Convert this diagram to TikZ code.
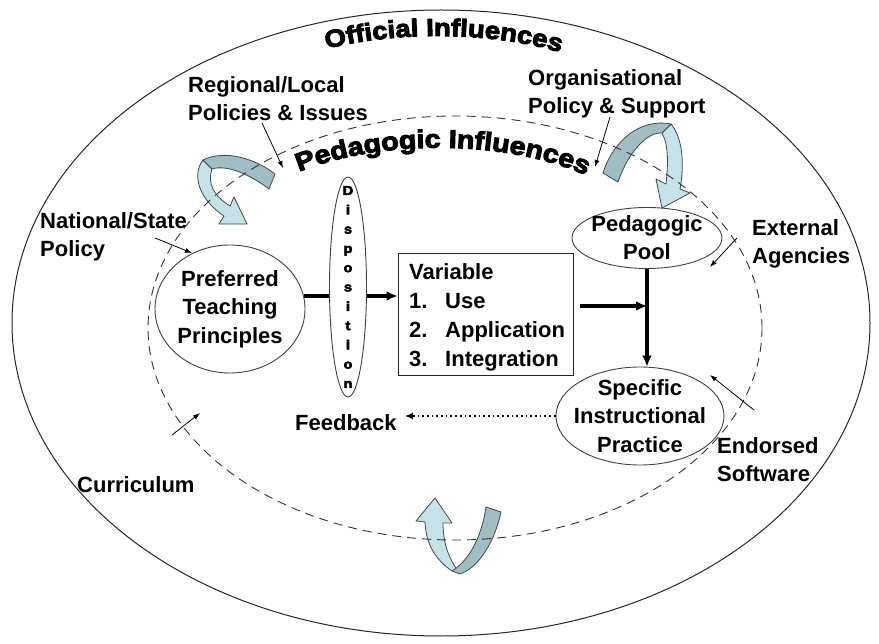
\documentclass[tikz,border=0pt]{standalone}
\usepackage{fontspec}
\setmainfont{Liberation Sans}
\newfontfamily\heavyfont{Liberation Sans Bold}[FakeBold=4,FakeStretch=1.12]
\usetikzlibrary{shapes.geometric,arrows.meta,decorations.text,calc}
\definecolor{rlight}{HTML}{C6E2E8}
\definecolor{rdark}{HTML}{9FBDC3}
\definecolor{rline}{HTML}{3C4C4E}
\begin{document}
\begin{tikzpicture}[x=1pt,y=-1pt,
  lbl/.style={font=\fontsize{22}{28}\selectfont\bfseries, align=left, inner sep=0, anchor=north west},
  ctr/.style={font=\fontsize{22}{28.5}\selectfont\bfseries, align=center, inner sep=0},
  oval/.style={ellipse, draw=black!75, line width=0.9pt, inner sep=0},
  thin arrow/.style={line width=0.8pt, -{Latex[length=7pt,width=5pt]}},
  flow/.style={line width=3.2pt},
  flow arrow/.style={line width=3.2pt, -{Latex[length=11pt,width=10pt]}},
  ribbon/.style={draw=rline, line width=0.8pt, line join=round},
]
\useasboundingbox (0,0) rectangle (879,644);
\fill[white] (0,0) rectangle (879,644);
% outer ellipse
\draw[line width=1pt, black!85] (441,323) ellipse [x radius=429, y radius=313];
% ribbon arrows
\filldraw[ribbon, fill=rlight] (203,160) .. controls (191,176) and (200,200) .. (224,216) -- (219,224) -- (247,224) -- (234,197) -- (230,206) .. controls (214,196) and (207,184) .. (212,169) -- cycle;
\filldraw[ribbon, fill=rdark] (203,160) .. controls (225,149) and (256,159) .. (275,174) -- (269,189) .. controls (252,176) and (228,164) .. (212,169) -- cycle;
\filldraw[ribbon, fill=rlight] (671,124) .. controls (684,140) and (684,168) .. (680,189) -- (690,193) -- (662,208) -- (656,179) -- (666,184) .. controls (668,165) and (669,146) .. (662,133) -- cycle;
\filldraw[ribbon, fill=rdark] (603,173) .. controls (613,141) and (640,118) .. (671,124) -- (662,133) .. controls (648,132) and (629,150) .. (618,182) -- cycle;
\filldraw[ribbon, fill=rlight] (425,522) -- (416,521) -- (435,498) -- (452,523) -- (443,523) .. controls (443,545) and (450,560) .. (458,571) -- (452,571) .. controls (436,560) and (426,545) .. (425,522) -- cycle;
\filldraw[ribbon, fill=rdark] (452,571) .. controls (470,560) and (482,535) .. (486,507) -- (501,512) .. controls (495,540) and (480,567) .. (460,574) -- cycle;
% dashed ellipse
\draw[line width=0.9pt, black!80, dash pattern=on 9pt off 6pt] (455,328) ellipse [x radius=307, y radius=212];
% curved titles
\path[decorate, decoration={text along path, text align=center, text={|\heavyfont\fontsize{24.5}{24.5}\selectfont|Official Influences}}] (315,52) .. controls (390,30) and (495,30) .. (572,56);
\path[decorate, decoration={text along path, text align=center, text={|\heavyfont\fontsize{25.5}{25.5}\selectfont|Pedagogic Influences}}] (285,178) .. controls (370,137) and (515,137) .. (600,182);
% main nodes
\node[oval, minimum width=150pt, minimum height=128pt] (pref) at (230,309) {};
\node[ctr] (preft) at (pref.center) {Preferred\\Teaching\\Principles};
\node[oval, minimum width=37pt, minimum height=220pt] (disp) at (348,287) {};
\node[font=\heavyfont\fontsize{13}{19.3}\selectfont, align=center, inner sep=0] (dispt) at (disp.center) {D\\i\\s\\p\\o\\s\\i\\t\\i\\o\\n};
\node[draw=black!85, line width=0.9pt, minimum width=175pt, minimum height=122pt, inner sep=0] (vbox) at (485.5,314) {};
\node[lbl, font=\fontsize{22}{29}\selectfont\bfseries] (vboxt) at (409,263) {Variable\\\makebox[36pt][l]{1.}Use\\\makebox[36pt][l]{2.}Application\\\makebox[36pt][l]{3.}Integration};
\node[oval, minimum width=150pt, minimum height=61pt] (pool) at (647,238) {};
\node[ctr, font=\fontsize{22}{28}\selectfont\bfseries] (poolt) at (pool.center) {Pedagogic\\Pool};
\node[oval, minimum width=168pt, minimum height=98pt] (spec) at (640,416) {};
\node[ctr] (spect) at (spec.center) {Specific\\Instructional\\Practice};
% flow connectors
\draw[flow] (pref.10) -- (pref.10 -| disp.west);
\draw[flow arrow] (pref.10 -| disp.east) -- (pref.10 -| vbox.west);
\coordinate (hs) at (580,306);
\coordinate (jn) at (pool.south |- hs);
\draw[flow arrow] (hs) -- (jn);
\draw[flow arrow] (pool.south) -- (pool.south |- spec.north);
% feedback
\node[lbl] (fb) at (295,414) {Feedback};
\draw[line width=1.7pt, dash pattern=on 1.7pt off 3pt, -{Latex[length=8pt,width=7pt]}] (spec.west) -- ($(fb.east |- spec.west)+(8,0)$);
% influence labels
\node[lbl] (reg) at (188,76) {Regional/Local\\Policies \& Issues};
\node[lbl] (org) at (528,69) {Organisational\\Policy \& Support};
\node[lbl] (nat) at (40,212) {National/State\\Policy};
\node[lbl] (ext) at (752,219) {External\\Agencies};
\node[lbl] (ends) at (717,437) {Endorsed\\Software};
\node[lbl] (cur) at (77,476) {Curriculum};
% influence arrows
\coordinate (regA) at (262,123); \coordinate (regB) at (283,168);
\coordinate (orgA) at (610,117); \coordinate (orgB) at (595,167);
\coordinate (natA) at (155,238); \coordinate (natB) at (192,253);
\coordinate (extA) at (737,238); \coordinate (extB) at (710,267);
\coordinate (endA) at (754,410); \coordinate (endB) at (710,375);
\coordinate (curA) at (172,435); \coordinate (curB) at (200,413);
\draw[thin arrow] (regA) -- (regB);
\draw[thin arrow] (orgA) -- (orgB);
\draw[thin arrow] (natA) -- (natB);
\draw[thin arrow] (extA) -- (extB);
\draw[thin arrow] (endA) -- (endB);
\draw[thin arrow] (curA) -- (curB);
\end{tikzpicture}
\end{document}
